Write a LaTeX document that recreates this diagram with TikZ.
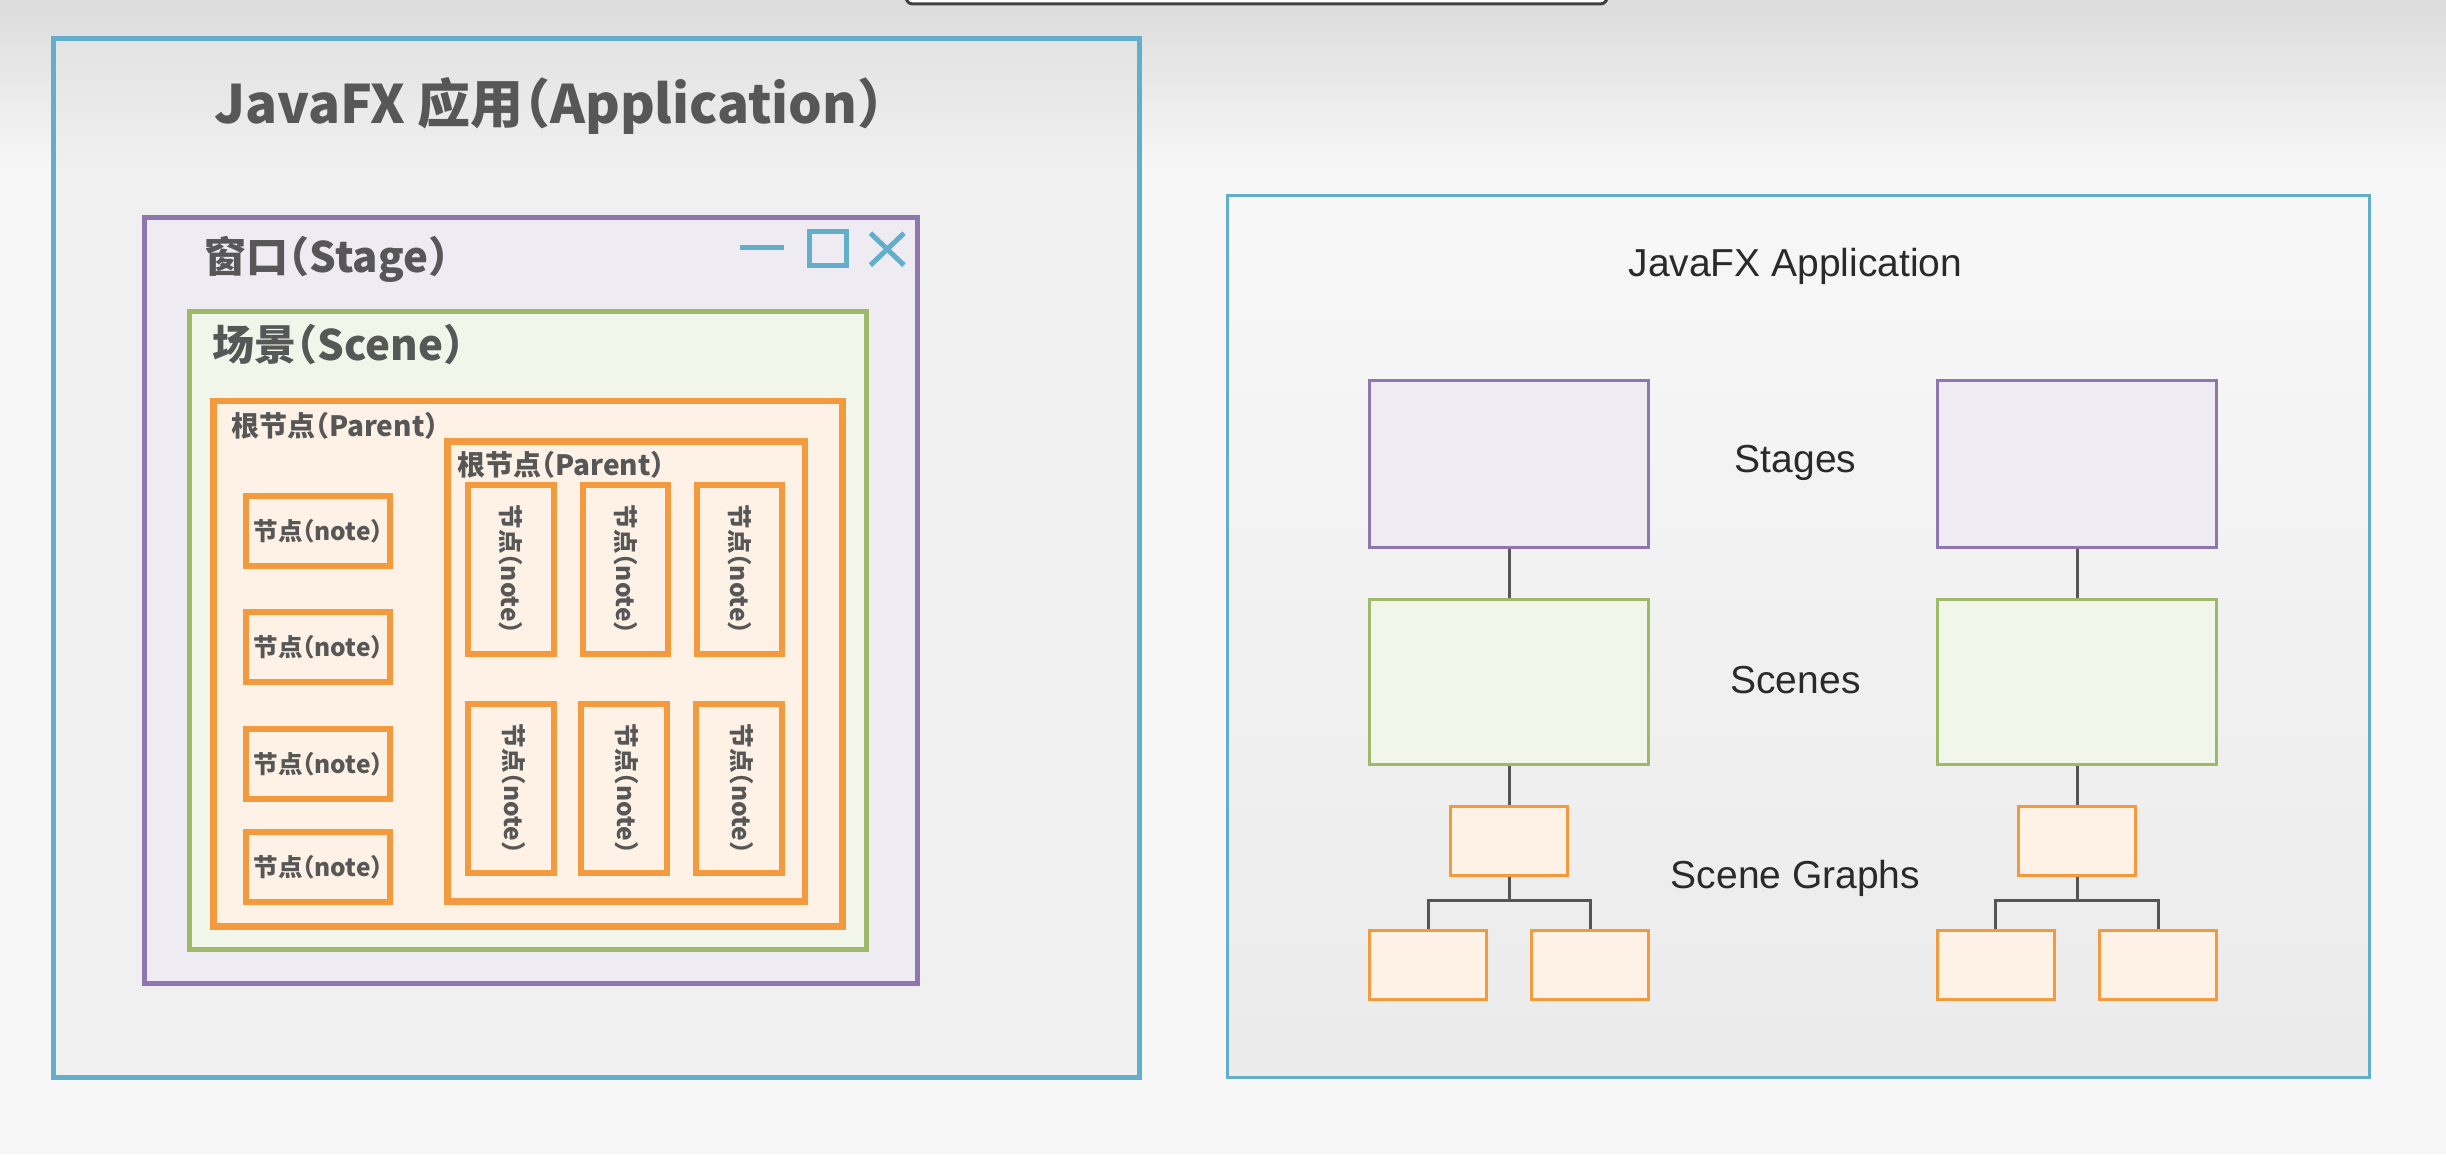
\documentclass[tikz,border=0pt]{standalone}
\usepackage{fontspec}
\setmainfont{Liberation Sans}
\newfontfamily\cjk{Noto Sans CJK SC}[RawFeature=+halt]
\definecolor{cblue}{HTML}{62AECB}
\definecolor{cpurple}{HTML}{8E77AE}
\definecolor{cgreen}{HTML}{9DBA6B}
\definecolor{corange}{HTML}{F39A3F}
\definecolor{ctext}{HTML}{575757}
\definecolor{rtext}{HTML}{2A2A2A}
\definecolor{pfill}{HTML}{EEEBF3}
\definecolor{gfill}{HTML}{F1F5EA}
\definecolor{ofill}{HTML}{FDF2E5}
\definecolor{lgray}{HTML}{F0F0F0}
\definecolor{bgc}{HTML}{F7F7F7}
\definecolor{topc}{HTML}{DCDCDC}
\definecolor{linec}{HTML}{555555}
\begin{document}
\begin{tikzpicture}[x=1.56pt,y=-1.56pt,
  lbig/.style={font=\cjk\bfseries\fontsize{42}{48}\selectfont, text=ctext, anchor=west, inner sep=0},
  lpar/.style={font=\cjk\bfseries\fontsize{28}{32}\selectfont, text=ctext, anchor=west, inner sep=0},
  notebox/.style={draw=corange, line width=6pt, fill=ofill, inner sep=0,
     font=\cjk\bfseries\fontsize{24.5}{28}\selectfont, text=ctext},
  hnote/.style={notebox, minimum width=92*1.56pt, minimum height=45*1.56pt},
  vnote/.style={notebox, minimum width=55*1.56pt, minimum height=108*1.56pt},
  vtext/.style={font=\cjk\bfseries\fontsize{24.5}{28}\selectfont, text=ctext, rotate=-90, inner sep=0},
  stagebox/.style={draw=cpurple, line width=3pt, fill=pfill, minimum width=179*1.56pt, minimum height=107*1.56pt, inner sep=0},
  scenebox/.style={draw=cgreen, line width=3pt, fill=gfill, minimum width=179*1.56pt, minimum height=106*1.56pt, inner sep=0},
  graphbox/.style={draw=corange, line width=3pt, fill=ofill, minimum width=75*1.56pt, minimum height=44*1.56pt, inner sep=0},
  rlabel/.style={font=\fontsize{39}{45}\selectfont, text=rtext, inner sep=0},
  conn/.style={draw=linec, line width=3pt}
]
\useasboundingbox (0,0) rectangle (1568,740);
% background
\fill[bgc] (0,0) rectangle (1568,740);
\shade[top color=topc, bottom color=bgc] (0,0) rectangle (1568,110);
\draw[fill=white, draw=black!75, line width=3pt, rounded corners=6pt] (581,-15) rectangle (1030,2.5);

% ---------- left panel ----------
\fill[lgray] (33,23) rectangle (732,692);
\shade[top color=black!11, bottom color=lgray] (34.5,24.5) rectangle (730.5,110);
\draw[cblue, line width=5pt] (34.5,24.5) rectangle (730.5,690.5);
\node[font=\cjk\bfseries\fontsize{53}{60}\selectfont, text=ctext, inner sep=0] (title) at (352,68) {JavaFX 应用（Application）};

% stage
\draw[cpurple, line width=5pt, fill=pfill] (92.6,139.6) rectangle (588.4,630.4);
\node[lbig] (stagelbl) at (131,166) {窗口（Stage）};
\coordinate (mina) at (474.5,158.5);
\coordinate (minb) at (502.5,158.5);
\draw[cblue, line width=4.5pt] (mina) -- (minb);
\draw[cblue, line width=5pt] (519.1,148.6) rectangle (542.4,170.4);
\draw[cblue, line width=5pt] (558,149.5) -- (579.5,170);
\draw[cblue, line width=5pt] (579.5,149.5) -- (558,170);

% scene
\draw[cgreen, line width=5pt, fill=gfill] (121.6,199.6) rectangle (555.4,608.4);
\node[lbig] (scenelbl) at (136,221) {场景（Scene）};

% outer parent
\draw[corange, line width=6.5pt, fill=ofill] (137,257) rectangle (540,594);
\node[lpar] (par1) at (148,273) {根节点（Parent）};
% inner parent
\draw[corange, line width=6.5pt, fill=ofill] (287,283) rectangle (516,578);
\node[lpar] (par2) at (293,298) {根节点（Parent）};

% horizontal notes
\node[hnote] (n1) at (204,340.5) {节点（note）};
\node[hnote] (n2) at (204,415) {节点（note）};
\node[hnote] (n3) at (204,490) {节点（note）};
\node[hnote] (n4) at (204,556) {节点（note）};

% vertical notes, top row
\node[vnote] (v1) at (327.5,365) {};
\node[vnote] (v2) at (401,365) {};
\node[vnote] (v3) at (474,365) {};
\node[vtext] (t1) at (v1) {节点（note）};
\node[vtext] (t2) at (v2) {节点（note）};
\node[vtext] (t3) at (v3) {节点（note）};
% bottom row
\node[vnote] (v4) at (327.5,505.5) {};
\node[vnote] (v5) at (400,505.5) {};
\node[vnote] (v6) at (473.5,505.5) {};
\node[vtext] (t4) at ([xshift=3pt]v4.center) {节点（note）};
\node[vtext] (t5) at ([xshift=3pt]v5.center) {节点（note）};
\node[vtext] (t6) at ([xshift=3pt]v6.center) {节点（note）};

% ---------- right panel ----------
\shade[top color=white!97!black, bottom color=black!8] (787,125) rectangle (1519,691);
\draw[cblue, line width=3pt] (787,125) rectangle (1519,691);
\node[rlabel] (apptitle) at (1151,171) {JavaFX Application};

\node[stagebox] (st1) at (967.5,297.5) {};
\node[stagebox] (st2) at (1331.5,297.5) {};
\node[scenebox] (sc1) at (967.5,437) {};
\node[scenebox] (sc2) at (1331.5,437) {};
\node[graphbox] (r1) at (967.5,539) {};
\node[graphbox] (r2) at (1331.5,539) {};
\node[graphbox] (c1) at (915.5,618.5) {};
\node[graphbox] (c2) at (1019.5,618.5) {};
\node[graphbox] (c3) at (1279.5,618.5) {};
\node[graphbox] (c4) at (1383.5,618.5) {};

\node[rlabel] (lstages) at (1151,297) {Stages};
\node[rlabel] (lscenes) at (1151,436) {Scenes};
\node[rlabel] (lgraphs) at (1151,563) {Scene Graphs};

\draw[conn] (st1.south) -- (sc1.north);
\draw[conn] (st2.south) -- (sc2.north);
\draw[conn] (sc1.south) -- (r1.north);
\draw[conn] (sc2.south) -- (r2.north);
\draw[conn] (r1.south) -- ++(0,15) -| (c1.north);
\draw[conn] (r1.south) -- ++(0,15) -| (c2.north);
\draw[conn] (r2.south) -- ++(0,15) -| (c3.north);
\draw[conn] (r2.south) -- ++(0,15) -| (c4.north);
\end{tikzpicture}
\end{document}
